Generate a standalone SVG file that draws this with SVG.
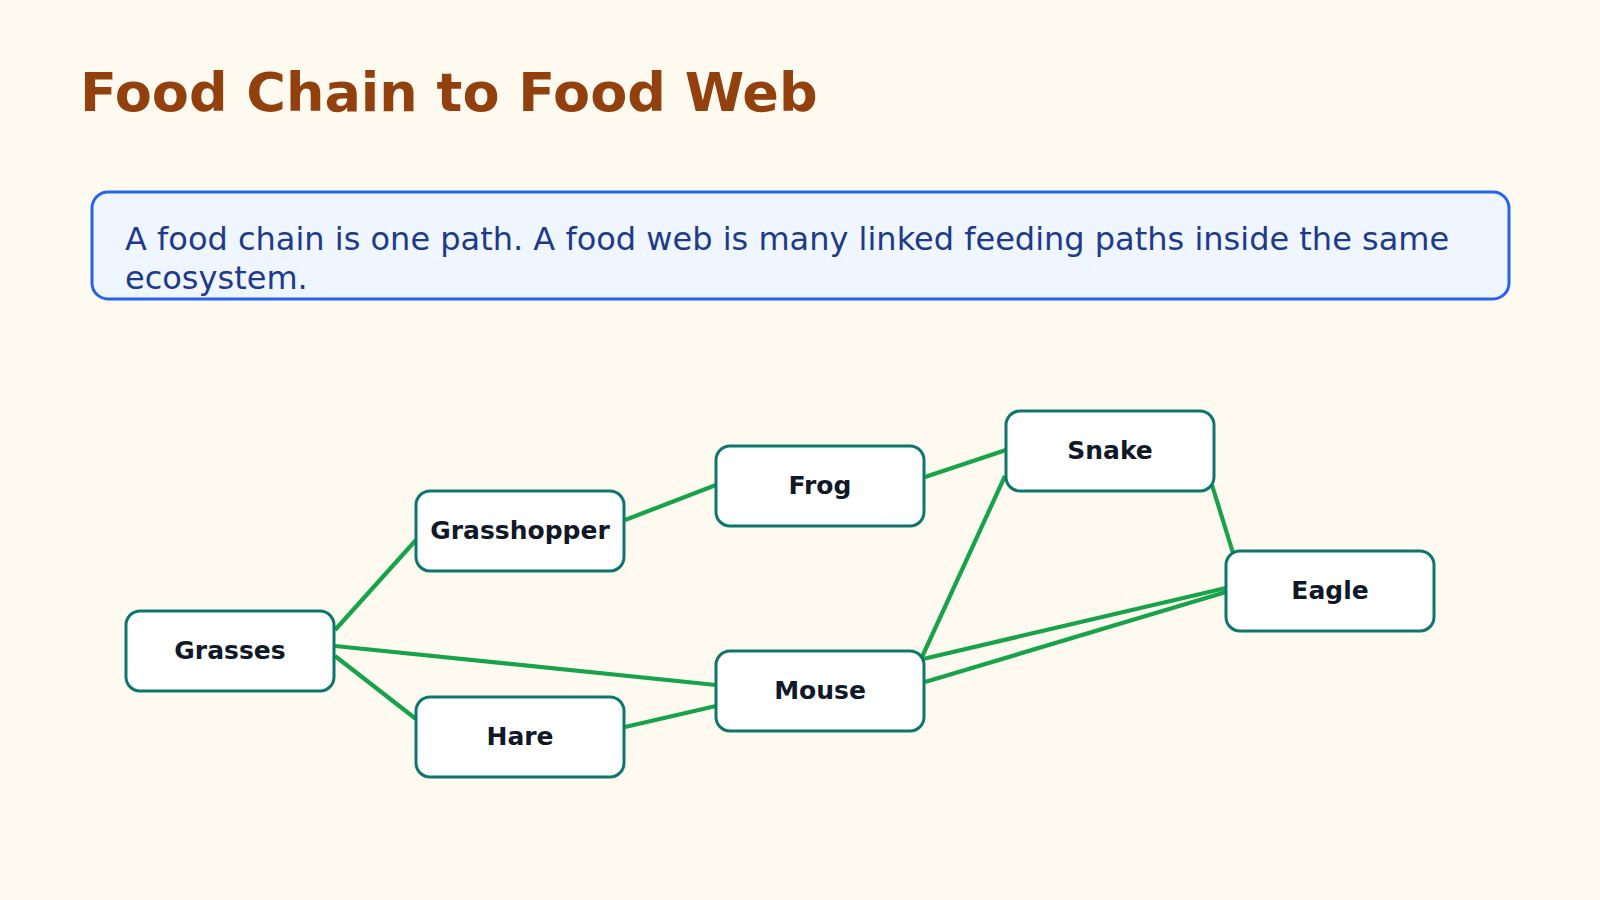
<svg xmlns="http://www.w3.org/2000/svg" width="1600" height="900" viewBox="0 0 1600 900">
<style>
.bg{fill:#fefaf0}
.title{font-family:"DejaVu Sans",sans-serif;font-weight:bold;font-size:54px;fill:#92400e}
.info{fill:#eff6ff;stroke:#2563eb;stroke-width:3}
.infot{font-family:"DejaVu Sans",sans-serif;font-size:32px;fill:#1e3a8a}
.node rect{fill:#ffffff;stroke:#0f766e;stroke-width:3}
.node text{font-family:"DejaVu Sans",sans-serif;font-weight:bold;font-size:25px;fill:#111827;text-anchor:middle}
.edges line{stroke:#16a34a;stroke-width:4.2;stroke-linecap:butt}
</style>
<rect class="bg" x="0" y="0" width="1600" height="900"/>
<text class="title" x="80" y="111">Food Chain to Food Web</text>
<g id="info">
<rect class="info" x="92" y="192" width="1417" height="107" rx="16"/>
<text class="infot" x="125" y="250">A food chain is one path. A food web is many linked feeding paths inside the same</text>
<text class="infot" x="125" y="289">ecosystem.</text>
</g>
<g id="connectors" class="edges">
<line x1="335" y1="630" x2="416" y2="540"/>
<line x1="335" y1="646" x2="716" y2="685"/>
<line x1="335" y1="656" x2="416" y2="719"/>
<line x1="625" y1="727" x2="716" y2="706"/>
<line x1="625" y1="520" x2="716" y2="485"/>
<line x1="925" y1="477" x2="1006" y2="450"/>
<line x1="922" y1="657" x2="1005" y2="476"/>
<line x1="1212" y1="485" x2="1233" y2="553"/>
<line x1="923" y1="659" x2="1226" y2="588"/>
<line x1="925" y1="682" x2="1226" y2="592"/>
</g>
<g id="grasses" class="node"><rect x="126" y="611" width="208" height="80" rx="14"/><text x="230" y="658.5">Grasses</text></g>
<g id="grasshopper" class="node"><rect x="416" y="491" width="208" height="80" rx="14"/><text x="520" y="538.5">Grasshopper</text></g>
<g id="hare" class="node"><rect x="416" y="697" width="208" height="80" rx="14"/><text x="520" y="744.5">Hare</text></g>
<g id="frog" class="node"><rect x="716" y="446" width="208" height="80" rx="14"/><text x="820" y="493.5">Frog</text></g>
<g id="mouse" class="node"><rect x="716" y="651" width="208" height="80" rx="14"/><text x="820" y="698.5">Mouse</text></g>
<g id="snake" class="node"><rect x="1006" y="411" width="208" height="80" rx="14"/><text x="1110" y="458.5">Snake</text></g>
<g id="eagle" class="node"><rect x="1226" y="551" width="208" height="80" rx="14"/><text x="1330" y="598.5">Eagle</text></g>
</svg>
